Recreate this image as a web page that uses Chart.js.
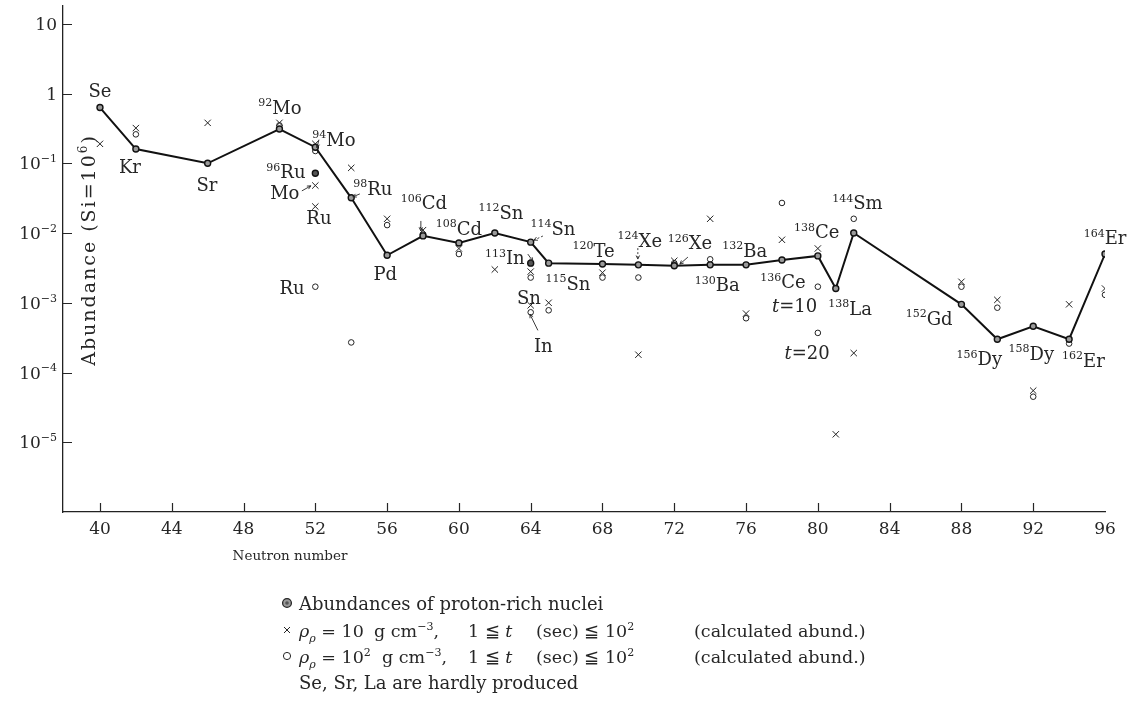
<!DOCTYPE html>
<html><head><meta charset="utf-8">
<script src="https://cdn.jsdelivr.net/npm/chart.js@4.4.1/dist/chart.umd.min.js"></script>
<style>html,body{margin:0;padding:0;background:#fff;}#wrap{position:relative;width:1133px;height:715px;}</style>
</head><body><div id="wrap"><canvas id="c" width="1133" height="715"></canvas></div>
<script>
// ---- data ----
const neutronNumbers = [40,42,46,50,52,54,56,58,60,62,64,65,68,70,72,74,76,78,80,81,82,88,90,92,94,96];
const protonRichAbund = [0.63,0.16,0.10,0.31,0.17,0.032,0.0048,0.0091,0.0072,0.010,0.0074,0.0037,0.0036,0.0035,0.0034,0.0035,0.0035,0.0041,0.0047,0.0016,0.0100,0.00095,0.00030,0.00046,0.00030,0.0050];
const extraObsN = [52,64];
const extraObsV = [0.072,0.0037];
const rho10N = [40,42,46,50,52,52,52,54,56,58,60,62,64,64,65,68,70,72,74,76,78,80,81,82,88,90,92,94,96];
const rho10V = [0.19,0.32,0.38,0.38,0.19,0.048,0.024,0.086,0.016,0.011,0.006,0.003,0.0028,0.00092,0.0010,0.0027,0.00018,0.0040,0.016,0.0007,0.0080,0.0060,0.000013,0.00019,0.0020,0.0011,0.000055,0.00095,0.0016];
const rho100N = [42,50,52,52,54,56,58,60,64,64,65,68,70,72,74,76,78,80,80,82,88,90,92,94,96];
const rho100V = [0.26,0.35,0.15,0.0017,0.00027,0.013,0.0095,0.005,0.0023,0.00073,0.00078,0.0023,0.0023,0.0037,0.0042,0.0006,0.027,0.0017,0.00037,0.016,0.0017,0.00085,0.000045,0.00026,0.0013];
const xTickMarks = [40,44,48,52,56,60,64,68,72,76,80,84,88,92];
const xTickLabels = [40,44,48,52,56,60,64,68,72,76,80,84,88,92,96];
const yTickExponents = [1,0,-1,-2,-3,-4,-5];
const nuclideLabels = [
 {sup:'', text:'Se', n:40.0, v:1.1},
 {sup:'', text:'Kr', n:41.67, v:0.089},
 {sup:'', text:'Sr', n:45.96, v:0.049},
 {sup:'92', text:'Mo', n:50.03, v:0.63},
 {sup:'94', text:'Mo', n:53.04, v:0.22},
 {sup:'96', text:'Ru', n:50.36, v:0.076},
 {sup:'', text:'Mo', n:50.3, v:0.038},
 {sup:'', text:'Ru', n:52.2, v:0.0165},
 {sup:'98', text:'Ru', n:55.2, v:0.044},
 {sup:'', text:'Ru', n:50.7, v:0.00166},
 {sup:'', text:'Pd', n:55.9, v:0.0026},
 {sup:'106', text:'Cd', n:58.05, v:0.027},
 {sup:'108', text:'Cd', n:60.0, v:0.0118},
 {sup:'112', text:'Sn', n:62.34, v:0.020},
 {sup:'114', text:'Sn', n:65.24, v:0.0118},
 {sup:'113', text:'In', n:62.56, v:0.0044},
 {sup:'', text:'Sn', n:63.9, v:0.0012},
 {sup:'', text:'In', n:64.7, v:0.00024},
 {sup:'115', text:'Sn', n:66.07, v:0.0019},
 {sup:'120', text:'Te', n:67.5, v:0.0057},
 {sup:'124', text:'Xe', n:70.08, v:0.0079},
 {sup:'126', text:'Xe', n:72.87, v:0.0072},
 {sup:'132', text:'Ba', n:75.93, v:0.0057},
 {sup:'130', text:'Ba', n:74.4, v:0.0018},
 {sup:'136', text:'Ce', n:78.05, v:0.0020},
 {sup:'138', text:'Ce', n:79.94, v:0.0104},
 {ital:'t', text:'=10', n:78.7, v:0.00092},
 {ital:'t', text:'=20', n:79.4, v:0.000195},
 {sup:'138', text:'La', n:81.8, v:0.00083},
 {sup:'144', text:'Sm', n:82.2, v:0.027},
 {sup:'152', text:'Gd', n:86.2, v:0.0006},
 {sup:'156', text:'Dy', n:89.0, v:0.000158},
 {sup:'158', text:'Dy', n:91.9, v:0.000187},
 {sup:'162', text:'Er', n:94.8, v:0.000149},
 {sup:'164', text:'Er', n:96.0, v:0.0085}
];
const leaderLines = [
 {from:[52.2,0.218], to:[52.09,0.167], dash:false},
 {from:[51.25,0.0402], to:[51.75,0.0475], dash:false},
 {from:[54.48,0.0364], to:[54.09,0.033], dash:false},
 {from:[57.88,0.0149], to:[57.88,0.0107], dash:false},
 {from:[64.68,0.00906], to:[64.18,0.0079], dash:true},
 {from:[63.84,0.00499], to:[64.12,0.00395], dash:false},
 {from:[64.40,0.000402], to:[63.96,0.000684], dash:false},
 {from:[69.97,0.00608], to:[69.97,0.00423], dash:true},
 {from:[72.76,0.00452], to:[72.31,0.00358], dash:false}
];

const INK = '#262626';
const FAM = '"DejaVu Serif", "Liberation Serif", serif';
function segFont(kind, size){
  const small = (kind==='sup'||kind==='sub'||kind==='isub');
  const s = small ? Math.round(size*0.62) : size;
  const it = (kind==='i'||kind==='isub') ? 'italic ' : '';
  return it + s + 'px ' + FAM;
}
function segDy(kind,size){ return kind==='sup' ? -size*0.42 : ((kind==='sub'||kind==='isub') ? size*0.28 : 0); }
function richWidth(ctx, segs, size){ let w=0; for(const [t,k] of segs){ ctx.font=segFont(k,size); w+=ctx.measureText(t).width; } return w; }
function drawRich(ctx, segs, x, y, size){ let cx=x; for(const [t,k] of segs){ ctx.font=segFont(k,size); ctx.fillText(t,cx,y+segDy(k,size)); cx+=ctx.measureText(t).width; } }

function arrowHead(ctx, x1,y1,x2,y2){
  const a=Math.atan2(y2-y1,x2-x1), L=4;
  ctx.beginPath();
  ctx.moveTo(x2,y2); ctx.lineTo(x2-L*Math.cos(a-0.45), y2-L*Math.sin(a-0.45));
  ctx.moveTo(x2,y2); ctx.lineTo(x2-L*Math.cos(a+0.45), y2-L*Math.sin(a+0.45));
  ctx.stroke();
}

const inkPlugin = {
  id:'ink',
  afterDraw(chart){
    const ctx = chart.ctx, X = chart.scales.x, Y = chart.scales.y, ca = chart.chartArea;
    const px = n => X.getPixelForValue(n), py = v => Y.getPixelForValue(v);
    ctx.save();
    ctx.fillStyle = INK; ctx.strokeStyle = INK; ctx.textAlign='left'; ctx.textBaseline='alphabetic';
    // tick marks (inward)
    ctx.lineWidth = 1.2;
    ctx.beginPath();
    for(const e of yTickExponents){ const y=Math.round(py(Math.pow(10,e)))+0.5; ctx.moveTo(ca.left, y); ctx.lineTo(ca.left+9, y); }
    for(const n of xTickMarks){ const x=Math.round(px(n))+0.5; ctx.moveTo(x, ca.bottom); ctx.lineTo(x, ca.bottom-9); }
    ctx.stroke();
    // tick labels
    for(const n of xTickLabels){
      const segs=[[String(n),'n']]; const w=richWidth(ctx,segs,17);
      drawRich(ctx, segs, px(n)-w/2, ca.bottom+22, 17);
    }
    for(const e of yTickExponents){
      let segs;
      if(e===1) segs=[['10','n']]; else if(e===0) segs=[['1','n']]; else segs=[['10','n'],['\u2212'+Math.abs(e),'sup']];
      const w=richWidth(ctx,segs,17);
      drawRich(ctx, segs, 57-w, py(Math.pow(10,e))+6, 17);
    }
    // axis titles
    ctx.save();
    ctx.translate(95, 250); ctx.rotate(-Math.PI/2);
    ctx.letterSpacing = '2px';
    { const segs=[['Abundance (Si=10','n'],['6','sup'],[')','n']]; const w=richWidth(ctx,segs,19); drawRich(ctx,segs,-w/2,0,19); }
    ctx.letterSpacing = '0px';
    ctx.restore();
    { const segs=[['Neutron number','n']]; const w=richWidth(ctx,segs,13.5); drawRich(ctx,segs,290-w/2,560,13.5); }
    // nuclide labels
    for(const L of nuclideLabels){
      const segs=[]; if(L.sup) segs.push([L.sup,'sup']); if(L.ital) segs.push([L.ital,'i']); segs.push([L.text,'n']);
      const w=richWidth(ctx,segs,18);
      drawRich(ctx, segs, px(L.n)-w/2, py(L.v)+6.5, 18);
    }
    // leader lines
    ctx.lineWidth=0.9;
    for(const A of leaderLines){
      const x1=px(A.from[0]), y1=py(A.from[1]), x2=px(A.to[0]), y2=py(A.to[1]);
      ctx.setLineDash(A.dash?[2,2]:[]);
      ctx.beginPath(); ctx.moveTo(x1,y1); ctx.lineTo(x2,y2); ctx.stroke();
      ctx.setLineDash([]);
      arrowHead(ctx,x1,y1,x2,y2);
    }
    // legend
    const lx=287, tx=299, rows=[604,631,657,683];
    ctx.beginPath(); ctx.arc(lx, rows[0]-1, 4.4, 0, Math.PI*2); ctx.fillStyle='#9a9a9a'; ctx.fill(); ctx.lineWidth=1.3; ctx.strokeStyle=INK; ctx.stroke();
    ctx.beginPath(); ctx.arc(lx, rows[0]-1, 1.8, 0, Math.PI*2); ctx.fillStyle='#555'; ctx.fill();
    ctx.fillStyle=INK;
    ctx.lineWidth=1; ctx.beginPath(); const c2=rows[1]-1;
    ctx.moveTo(lx-3,c2-3); ctx.lineTo(lx+3,c2+3); ctx.moveTo(lx+3,c2-3); ctx.lineTo(lx-3,c2+3); ctx.stroke();
    ctx.beginPath(); ctx.arc(lx, rows[2]-1, 3.6, 0, Math.PI*2); ctx.lineWidth=1; ctx.stroke();
    const fs=18, fs2=17.5;
    drawRich(ctx, [['Abundances of proton-rich nuclei','n']], tx, rows[0]+6, fs);
    drawRich(ctx, [['Se, Sr, La are hardly produced','n']], tx, rows[3]+6, fs);
    // row 2
    drawRich(ctx, [['\u03c1','i'],['\u03c1','isub'],[' = 10','n']], tx, rows[1]+6, fs2);
    drawRich(ctx, [['g cm','n'],['\u22123','sup'],[',','n']], 374, rows[1]+6, fs2);
    // row 3
    drawRich(ctx, [['\u03c1','i'],['\u03c1','isub'],[' = 10','n'],['2','sup']], tx, rows[2]+6, fs2);
    drawRich(ctx, [['g cm','n'],['\u22123','sup'],[',','n']], 382, rows[2]+6, fs2);
    for(const r of [rows[1], rows[2]]){
      drawRich(ctx, [['1 \u2266 ','n'],['t','i']], 468, r+6, fs2);
      drawRich(ctx, [['(sec) \u2266 10','n'],['2','sup']], 536, r+6, fs2);
      drawRich(ctx, [['(calculated abund.)','n']], 694, r+6, fs2);
    }
    ctx.restore();
  }
};

const toPts = (xs, ys) => xs.map((x,i)=>({x:x, y:ys[i]}));

new Chart(document.getElementById('c'), {
  type:'scatter',
  data:{ datasets:[
    { label:'Abundances of proton-rich nuclei', data:toPts(neutronNumbers, protonRichAbund), showLine:true, tension:0,
      borderColor:'#111', borderWidth:2, pointRadius:3, pointBackgroundColor:'#9a9a9a', pointBorderColor:'#111', pointBorderWidth:1.4 },
    { label:'Abundances (other)', data:toPts(extraObsN, extraObsV), showLine:false,
      pointRadius:3, pointBackgroundColor:'#555', pointBorderColor:'#111', pointBorderWidth:1.4 },
    { label:'rho 10', data:toPts(rho10N, rho10V), showLine:false, pointStyle:'crossRot', pointRadius:4.5,
      pointBorderColor:'#222', pointBorderWidth:1 },
    { label:'rho 100', data:toPts(rho100N, rho100V), showLine:false, pointStyle:'circle', pointRadius:2.8,
      pointBackgroundColor:'#fff', pointBorderColor:'#222', pointBorderWidth:1 }
  ]},
  options:{
    responsive:false, animation:false, devicePixelRatio:1,
    layout:{ padding:{ left:0, top:6, right:28, bottom:163 } },
    plugins:{ legend:{display:false}, tooltip:{enabled:false} },
    scales:{
      x:{ type:'linear', min:37.94, max:96, ticks:{display:false}, grid:{display:false},
          border:{display:true, color:'#222', width:1.3}, afterFit:s=>{ s.height=40; } },
      y:{ type:'logarithmic', min:1e-6, max:18, ticks:{display:false}, grid:{display:false},
          border:{display:true, color:'#222', width:1.3}, afterFit:s=>{ s.width=63; } }
    }
  },
  plugins:[inkPlugin]
});
</script></body></html>
